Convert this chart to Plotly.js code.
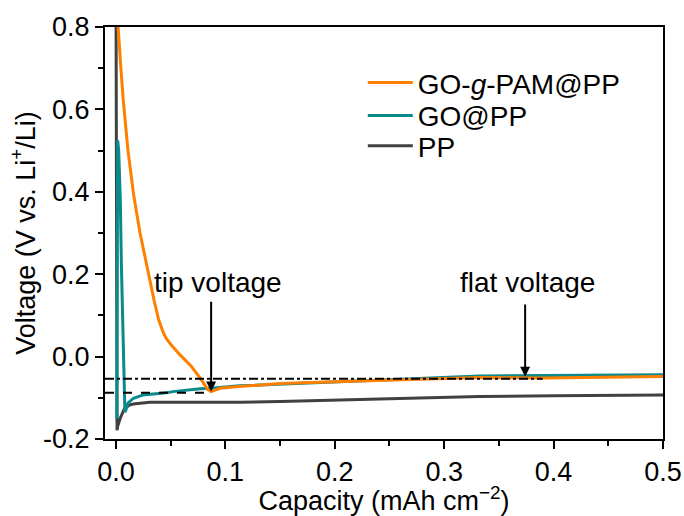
<!DOCTYPE html>
<html>
<head>
<meta charset="utf-8">
<script src="https://cdn.plot.ly/plotly-3.0.1.min.js"></script>
<style>html,body{margin:0;padding:0;background:#fff;}#chart{width:684px;height:516px;}</style>
</head>
<body>
<div id="chart"></div>
<script>
// GO-g-PAM@PP (orange)
const pamCapacity = [0.0015, 0.002, 0.0045, 0.0067, 0.011, 0.016, 0.022, 0.030, 0.035, 0.039, 0.043, 0.046, 0.050, 0.058, 0.069, 0.078, 0.084, 0.087, 0.090, 0.095, 0.107, 0.128, 0.150, 0.200, 0.241, 0.281, 0.332, 0.393, 0.450, 0.500];
const pamVoltage  = [0.95, 0.80, 0.70, 0.622, 0.50, 0.396, 0.30, 0.194, 0.135, 0.090, 0.060, 0.044, 0.030, 0.006, -0.024, -0.056, -0.080, -0.085, -0.082, -0.077, -0.074, -0.069, -0.065, -0.061, -0.058, -0.054, -0.051, -0.052, -0.050, -0.048];
// GO@PP (teal)
const goCapacity = [0.0008, 0.0013, 0.0016, 0.0025, 0.004, 0.005, 0.0067, 0.0076, 0.0082, 0.009, 0.011, 0.016, 0.022, 0.025, 0.046, 0.052, 0.077, 0.087, 0.113, 0.159, 0.200, 0.240, 0.280, 0.332, 0.393, 0.450, 0.500];
const goVoltage  = [-0.15, 0.30, 0.525, 0.50, 0.38, 0.22, 0.02, -0.10, -0.135, -0.13, -0.113, -0.101, -0.096, -0.093, -0.088, -0.085, -0.078, -0.077, -0.071, -0.066, -0.061, -0.057, -0.053, -0.047, -0.046, -0.045, -0.044];
// PP (dark grey)
const ppCapacity = [0.0, 0.0005, 0.001, 0.0015, 0.004, 0.008, 0.013, 0.016, 0.022, 0.031, 0.050, 0.113, 0.150, 0.200, 0.241, 0.300, 0.332, 0.400, 0.450, 0.500];
const ppVoltage  = [0.95, 0.40, -0.179, -0.17, -0.149, -0.125, -0.117, -0.115, -0.113, -0.111, -0.111, -0.111, -0.109, -0.106, -0.103, -0.099, -0.097, -0.095, -0.094, -0.093];

const seriesNames = ['GO-<i>g</i>-PAM@PP', 'GO@PP', 'PP'];
const seriesColors = ['#FF8000', '#0A8A8A', '#404040'];

// reference levels and annotations
const flatLevel = -0.054;
const tipLevel = -0.088;
const tipCapacity = 0.087;
const flatCapacity = 0.374;
const dashDotEnd = 0.39;

const xTickVals = [0.0, 0.1, 0.2, 0.3, 0.4, 0.5];
const xTickText = ['0.0', '0.1', '0.2', '0.3', '0.4', '0.5'];
const yTickVals = [-0.2, 0.0, 0.2, 0.4, 0.6, 0.8];
const yTickText = ['-0.2', '0.0', '0.2', '0.4', '0.6', '0.8'];

const FONT = 'Liberation Sans, Arial, sans-serif';
const FS = 27;
const legendIds = ['legend', 'legend2', 'legend3'];

const traces = [
  {x: pamCapacity, y: pamVoltage, name: seriesNames[0]},
  {x: goCapacity, y: goVoltage, name: seriesNames[1]},
  {x: ppCapacity, y: ppVoltage, name: seriesNames[2]}
].map((t, i) => Object.assign(t, {
  type: 'scatter', mode: 'lines', line: {color: seriesColors[i], width: 3}, cliponaxis: true, legend: legendIds[i]
}));
const order = [2, 1, 0];
const data = order.map(i => traces[i]);

function legendBox(yTop) {
  return {x: 0.462, y: yTop, xanchor: 'left', yanchor: 'top', bgcolor: 'rgba(0,0,0,0)',
          font: {family: FONT, size: 28, color: '#000'}, itemwidth: 45};
}

const layout = {
  width: 684, height: 516,
  margin: {l: 105, r: 21, t: 27, b: 77},
  paper_bgcolor: '#fff', plot_bgcolor: '#fff',
  font: {family: FONT, color: '#000', size: FS},
  showlegend: true,
  legend: legendBox(0.925),
  legend2: legendBox(0.845),
  legend3: legendBox(0.772),
  xaxis: {
    range: [-0.01, 0.5], showgrid: false, zeroline: false,
    showline: true, linecolor: '#000', linewidth: 2, mirror: true,
    ticks: 'outside', ticklen: 8, tickwidth: 2, tickcolor: '#000',
    tickvals: xTickVals, ticktext: xTickText, tickfont: {size: FS},
    minor: {dtick: 0.05, tick0: 0, ticklen: 5, tickwidth: 2, tickcolor: '#000', ticks: 'outside', showgrid: false},
    title: {text: 'Capacity (mAh cm<sup>\u22122</sup>)', font: {size: FS}, standoff: 2}
  },
  yaxis: {
    range: [-0.2, 0.8], showgrid: false, zeroline: false,
    showline: true, linecolor: '#000', linewidth: 2, mirror: true,
    ticks: 'outside', ticklen: 8, tickwidth: 2, tickcolor: '#000',
    tickvals: yTickVals, ticktext: yTickText, tickfont: {size: FS},
    minor: {dtick: 0.1, tick0: 0, ticklen: 5, tickwidth: 2, tickcolor: '#000', ticks: 'outside', showgrid: false},
    title: {text: 'Voltage (V vs. Li<sup>+</sup>/Li)', font: {size: FS}, standoff: 0}
  },
  shapes: [
    {type: 'line', xref: 'x', yref: 'y', x0: -0.01, x1: dashDotEnd, y0: flatLevel, y1: flatLevel,
     line: {color: '#000', width: 2, dash: 'dashdot'}},
    {type: 'line', xref: 'x', yref: 'y', x0: -0.01, x1: tipCapacity, y0: tipLevel, y1: tipLevel,
     line: {color: '#000', width: 2, dash: 'dash'}}
  ],
  annotations: [
    {xref: 'x', yref: 'y', x: 0.093, y: 0.181, text: 'tip voltage', showarrow: false,
     font: {size: 28, family: FONT}, xanchor: 'center', yanchor: 'middle'},
    {xref: 'x', yref: 'y', x: 0.376, y: 0.179, text: 'flat voltage', showarrow: false,
     font: {size: 28, family: FONT}, xanchor: 'center', yanchor: 'middle'},
    {xref: 'x', yref: 'y', x: tipCapacity, y: -0.085, axref: 'x', ayref: 'y', ax: tipCapacity, ay: 0.137,
     text: '', showarrow: true, arrowhead: 2, arrowsize: 1, arrowwidth: 2, arrowcolor: '#000'},
    {xref: 'x', yref: 'y', x: flatCapacity, y: -0.049, axref: 'x', ayref: 'y', ax: flatCapacity, ay: 0.130,
     text: '', showarrow: true, arrowhead: 2, arrowsize: 1, arrowwidth: 2, arrowcolor: '#000'}
  ]
};

Plotly.newPlot('chart', data, layout, {staticPlot: true, displayModeBar: false});
</script>
</body>
</html>
